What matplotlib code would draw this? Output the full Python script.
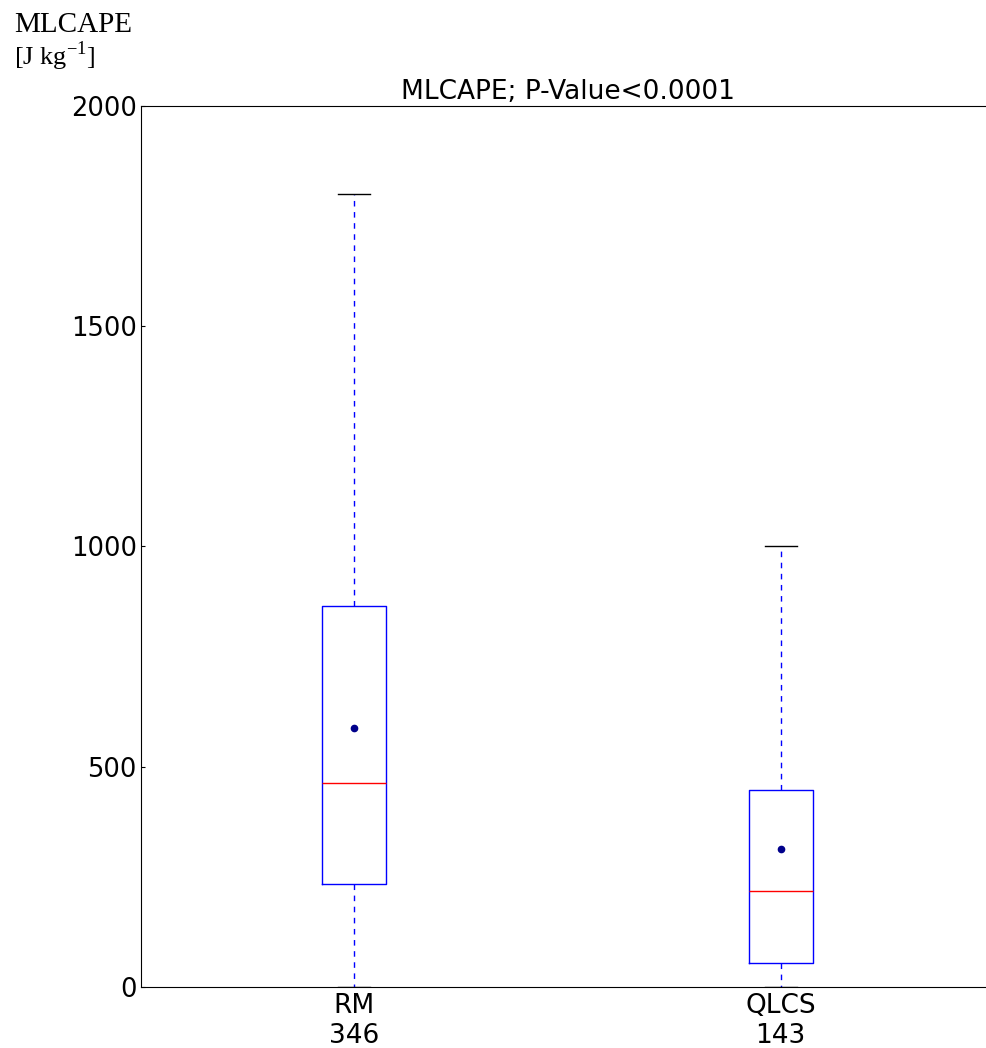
import matplotlib
matplotlib.use("Agg")
import matplotlib.pyplot as plt

# values (J/kg)
groups = ["RM", "QLCS"]
counts = [346, 143]
whislo = [0, 0]
q1 = [234, 54]
medians = [463, 218]
q3 = [865, 447]
whishi = [1800, 1000]
means = [588, 313]

plt.rcParams["mathtext.fontset"] = "custom"
plt.rcParams["mathtext.rm"] = "Liberation Serif"

fig = plt.figure(figsize=(9.86, 10.48), dpi=100)
ax = fig.add_axes([0.143, 0.0582, 0.865, 0.8407])

stats = []
for i, g in enumerate(groups):
    stats.append(dict(label=f"{g}\n{counts[i]}", whislo=whislo[i], q1=q1[i], med=medians[i],
                      q3=q3[i], whishi=whishi[i], mean=means[i], fliers=[]))

ax.bxp(stats, positions=[1, 2], widths=0.15, showmeans=True, showfliers=False,
       boxprops=dict(color="#0000ff", linewidth=1.0),
       medianprops=dict(color="#ff0000", linewidth=1.0),
       whiskerprops=dict(color="#0000ff", linewidth=1.0, linestyle=(0, (4, 4))),
       capprops=dict(color="black", linewidth=1.0),
       meanprops=dict(marker="o", markerfacecolor="#00008b", markeredgecolor="#00008b",
                      markersize=4.5))

ax.set_xlim(0.5, 2.5)
ax.set_ylim(0, 2000)
ax.set_yticks([0, 500, 1000, 1500, 2000])
ax.tick_params(axis="y", labelsize=18.5, length=3, direction="in", pad=3)
ax.tick_params(axis="x", labelsize=19, length=0, pad=4)
ax.spines["right"].set_visible(False)
ax.set_title("MLCAPE; P-Value<0.0001", fontsize=19, pad=5)

fig.text(0.014, 0.9695, "MLCAPE", family="Liberation Serif", fontsize=21, va="baseline")
fig.text(0.014, 0.938, r"[J kg$^{\mathrm{-1}}$]", family="Liberation Serif", fontsize=19,
         va="baseline")

fig.savefig("out.png", dpi=100)
